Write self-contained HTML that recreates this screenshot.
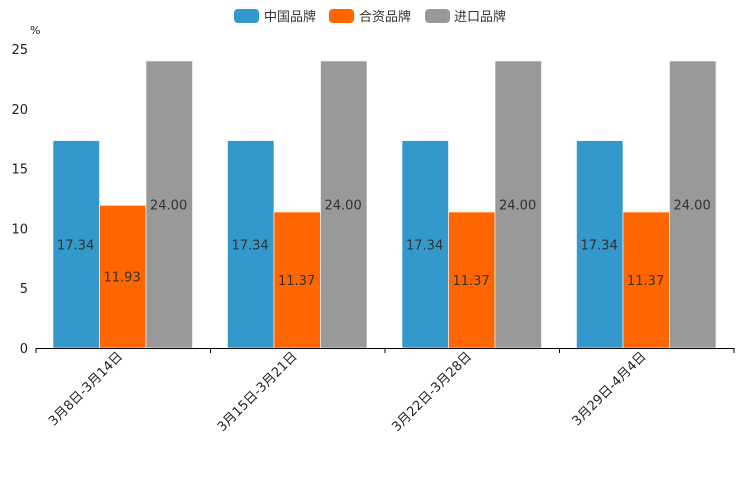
<!DOCTYPE html>
<html><head><meta charset="utf-8"><style>
body{margin:0;background:#fff;width:744px;height:496px;overflow:hidden}
svg text{font-family:"DejaVu Sans","Noto Sans CJK SC",sans-serif}
</style></head><body>
<svg id="c" width="744" height="496">
<g>
<g><rect x="234" y="9" width="25" height="14" rx="4" fill="#3398cc"/><text x="264" y="21" font-size="13" fill="#333">中国品牌</text></g>
<g><rect x="329" y="9" width="25" height="14" rx="4" fill="#ff6600"/><text x="359" y="21" font-size="13" fill="#333">合资品牌</text></g>
<g><rect x="425" y="9" width="25" height="14" rx="4" fill="#999999"/><text x="454" y="21" font-size="13" fill="#333">进口品牌</text></g>
</g>
<text x="30" y="34" font-size="11" fill="#222">%</text>
</svg>
<script>
const categories=["3月8日-3月14日","3月15日-3月21日","3月22日-3月28日","3月29日-4月4日"];
const chinaValues=[17.34,17.34,17.34,17.34];
const jvValues=[11.93,11.37,11.37,11.37];
const importValues=[24.00,24.00,24.00,24.00];
const yTicks=[0,5,10,15,20,25];
const svg=document.getElementById('c');
const NS='http://www.w3.org/2000/svg';
const x0=36,x1=734,y0=348,yTop=49,yMax=25;
const y=v=>y0-(v/yMax)*(y0-yTop);
const gw=(x1-x0)/categories.length;
function mk(t,a,p){const e=document.createElementNS(NS,t);for(const k in a)e.setAttribute(k,a[k]);(p||svg).appendChild(e);return e;}
yTicks.forEach(t=>{
  const e=mk('text',{x:28,y:y(t)+5,'font-size':13,'text-anchor':'end',fill:'#222'});e.textContent=t;
  
  
});
const series=[[chinaValues,'#3398cc','china'],[jvValues,'#ff6600','jv'],[importValues,'#999999','import']];
categories.forEach((c,i)=>{
  const gx=x0+i*gw;
  series.forEach(([vals,col,n],j)=>{
    const bx=gx+17+j*46.5;
    const r=mk('rect',{x:bx,y:y(vals[i]),width:46.5,height:y0-y(vals[i]),fill:col,stroke:'#fff','stroke-width':0.6});
    
    
    const t=mk('text',{x:bx+4,y:(y(vals[i])+y0)/2+5,'font-size':13,fill:'#333'});t.textContent=vals[i].toFixed(2);
    
    
  });
  const cx=gx+gw/2;
  const l=mk('text',{x:cx,y:357,'font-size':13,'text-anchor':'end',fill:'#222',transform:`rotate(-45 ${cx} 357)`});l.textContent=c;
  
  
});
const ax=mk('line',{x1:x0,x2:x1,y1:y0+0.5,y2:y0+0.5,stroke:'#000','stroke-width':1});


for(let i=0;i<=categories.length;i++){
  const tk=mk('line',{x1:x0+i*gw,x2:x0+i*gw,y1:y0,y2:y0+5,stroke:'#000'});
  
  
}
</script>
</body></html>
